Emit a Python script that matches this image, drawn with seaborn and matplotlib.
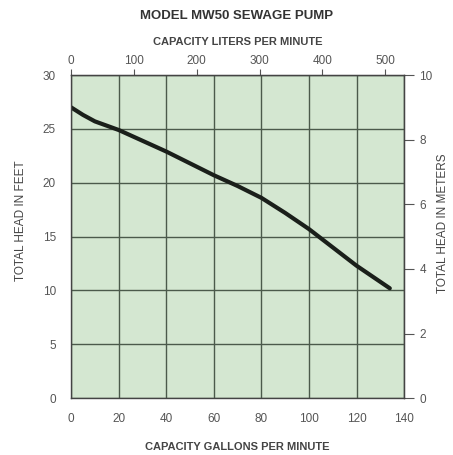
import matplotlib
matplotlib.use("Agg")
import matplotlib.pyplot as plt
import seaborn as sns
import pandas as pd

# pump curve
gallons = [0, 5, 10, 20, 30, 40, 50, 60, 70, 80, 90, 100, 110, 120, 128, 134]
head_ft = [27.0, 26.3, 25.7, 24.9, 23.9, 22.9, 21.8, 20.7, 19.7, 18.6, 17.2, 15.7, 14.0, 12.3, 11.1, 10.2]

gpm_ticks = [0, 20, 40, 60, 80, 100, 120, 140]
ft_ticks = [0, 5, 10, 15, 20, 25, 30]
lpm_ticks = [0, 100, 200, 300, 400, 500]
m_ticks = [0, 2, 4, 6, 8, 10]

GAL_TO_L = 3.785

df = pd.DataFrame({"gpm": gallons, "head": head_ft})

sns.set_style("white")
plt.rcParams['font.family'] = ['Liberation Sans', 'DejaVu Sans']

fig = plt.figure(figsize=(4.53, 4.55), dpi=100)
ax = fig.add_axes([0.157, 0.125, 0.735, 0.710])
ax.set_facecolor("#d4e7d1")

sns.lineplot(data=df, x="gpm", y="head", ax=ax, color="#1a1f1a", linewidth=3.0)

ax.set_xlim(0, 140)
ax.set_ylim(0, 30)
ax.set_xticks(gpm_ticks)
ax.set_yticks(ft_ticks)
ax.grid(True, color="#4b5a4b", linewidth=1.0)
for s in ax.spines.values():
    s.set_color("#444444")
    s.set_linewidth(1.0)
ax.tick_params(axis="both", direction="out", length=7, width=0.8, color="#555555",
               labelsize=8.5, labelcolor="#555555", pad=4)
ax.set_xlabel("CAPACITY GALLONS PER MINUTE", fontsize=8, fontweight="bold",
              color="#444444", labelpad=12)
ax.set_ylabel("TOTAL HEAD IN FEET", fontsize=8.5, color="#444444", labelpad=11)
ax.yaxis.label.set_y(0.55)

top = ax.secondary_xaxis("top", functions=(lambda g: g * GAL_TO_L, lambda l: l / GAL_TO_L))
top.set_xticks(lpm_ticks)
top.tick_params(direction="out", length=4, width=0.8, color="#555555",
                labelsize=8.5, labelcolor="#555555", pad=2)
top.set_xlabel("CAPACITY LITERS PER MINUTE", fontsize=8, fontweight="bold",
               color="#444444", labelpad=7)

right = ax.secondary_yaxis("right", functions=(lambda f: f / 3.0, lambda m: m * 3.0))
right.set_yticks(m_ticks)
right.tick_params(direction="out", length=7, width=0.8, color="#555555",
                  labelsize=8.5, labelcolor="#555555", pad=4)
right.set_ylabel("TOTAL HEAD IN METERS", fontsize=8.5, color="#444444", labelpad=3)
right.yaxis.label.set_y(0.54)

fig.suptitle("MODEL MW50 SEWAGE PUMP", x=0.523, y=0.978, fontsize=9.5,
             fontweight="bold", color="#333333")

fig.savefig("out.png", dpi=100, facecolor="white")
